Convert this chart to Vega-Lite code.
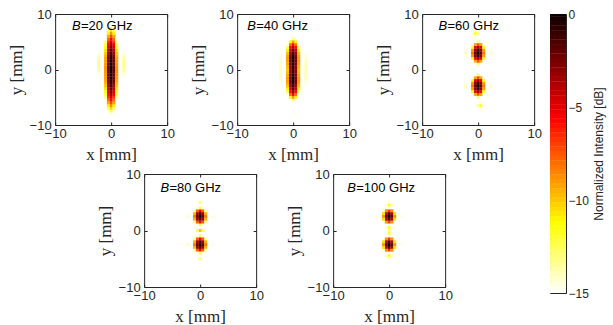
{
"$schema": "https://vega.github.io/schema/vega-lite/v6.json",
"padding": {"left": 6, "top": 7, "right": 5, "bottom": 5},
"background": "white",
"config": {
  "view": {"stroke": "#262626", "strokeWidth": 1},
  "axis": {"domain": false, "grid": false, "labelFont": "Liberation Sans", "labelFontSize": 13, "labelColor": "#262626", "tickColor": "#262626", "tickSize": -3, "titleFont": "Liberation Serif", "titleFontSize": 17, "titleFontWeight": "normal", "titleColor": "#262626", "labelFlush": false},
  "axisX": {"labelPadding": 5, "titlePadding": 6},
  "axisY": {"labelPadding": 7, "titlePadding": 4}
},
"datasets": {
"d20": [
{"x":0,"y":-8,"v":-14.5},{"x":0,"y":-7.5,"v":-12.4},{"x":0,"y":-7,"v":-10.4},{"x":0,"y":-6.5,"v":-8.7},{"x":0,"y":-6,"v":-7.1},{"x":0,"y":-5.5,"v":-5.7},{"x":0,"y":-5,"v":-4.5},{"x":0,"y":-4.5,"v":-3.5},{"x":0,"y":-4,"v":-2.6},{"x":0,"y":-3.5,"v":-1.8},{"x":0,"y":-3,"v":-1.3},{"x":0,"y":-2.5,"v":-0.8},{"x":0,"y":-2,"v":-0.5},{"x":0,"y":-1.5,"v":-0.2},{"x":0,"y":-1,"v":-0.1},{"x":0,"y":-0.5,"v":0},{"x":0,"y":0,"v":0},{"x":0,"y":0.5,"v":0},{"x":0,"y":1,"v":-0.1},{"x":0,"y":1.5,"v":-0.2},{"x":0,"y":2,"v":-0.5},{"x":0,"y":2.5,"v":-0.8},{"x":0,"y":3,"v":-1.3},{"x":0,"y":3.5,"v":-1.8},{"x":0,"y":4,"v":-2.6},{"x":0,"y":4.5,"v":-3.5},{"x":0,"y":5,"v":-4.5},{"x":0,"y":5.5,"v":-5.7},{"x":0,"y":6,"v":-7.1},{"x":0,"y":6.5,"v":-8.7},{"x":0,"y":7,"v":-10.4},{"x":0,"y":7.5,"v":-12.4},{"x":0,"y":8,"v":-14.5},
{"x":-0.5,"y":-7.5,"v":-14.6},{"x":-0.5,"y":-7,"v":-12.6},{"x":-0.5,"y":-6.5,"v":-10.9},{"x":-0.5,"y":-6,"v":-9.3},{"x":-0.5,"y":-5.5,"v":-7.9},{"x":-0.5,"y":-5,"v":-6.7},{"x":-0.5,"y":-4.5,"v":-5.7},{"x":-0.5,"y":-4,"v":-4.8},{"x":-0.5,"y":-3.5,"v":-4.1},{"x":-0.5,"y":-3,"v":-3.5},{"x":-0.5,"y":-2.5,"v":-3.0},{"x":-0.5,"y":-2,"v":-2.7},{"x":-0.5,"y":-1.5,"v":-2.4},{"x":-0.5,"y":-1,"v":-2.3},{"x":-0.5,"y":-0.5,"v":-2.2},{"x":-0.5,"y":0,"v":-2.2},{"x":-0.5,"y":0.5,"v":-2.2},{"x":-0.5,"y":1,"v":-2.3},{"x":-0.5,"y":1.5,"v":-2.4},{"x":-0.5,"y":2,"v":-2.7},{"x":-0.5,"y":2.5,"v":-3.0},{"x":-0.5,"y":3,"v":-3.5},{"x":-0.5,"y":3.5,"v":-4.1},{"x":-0.5,"y":4,"v":-4.8},{"x":-0.5,"y":4.5,"v":-5.7},{"x":-0.5,"y":5,"v":-6.7},{"x":-0.5,"y":5.5,"v":-7.9},{"x":-0.5,"y":6,"v":-9.3},{"x":-0.5,"y":6.5,"v":-10.9},{"x":-0.5,"y":7,"v":-12.6},{"x":-0.5,"y":7.5,"v":-14.6},
{"x":0.5,"y":-7.5,"v":-14.6},{"x":0.5,"y":-7,"v":-12.6},{"x":0.5,"y":-6.5,"v":-10.9},{"x":0.5,"y":-6,"v":-9.3},{"x":0.5,"y":-5.5,"v":-7.9},{"x":0.5,"y":-5,"v":-6.7},{"x":0.5,"y":-4.5,"v":-5.7},{"x":0.5,"y":-4,"v":-4.8},{"x":0.5,"y":-3.5,"v":-4.1},{"x":0.5,"y":-3,"v":-3.5},{"x":0.5,"y":-2.5,"v":-3.0},{"x":0.5,"y":-2,"v":-2.7},{"x":0.5,"y":-1.5,"v":-2.4},{"x":0.5,"y":-1,"v":-2.3},{"x":0.5,"y":-0.5,"v":-2.2},{"x":0.5,"y":0,"v":-2.2},{"x":0.5,"y":0.5,"v":-2.2},{"x":0.5,"y":1,"v":-2.3},{"x":0.5,"y":1.5,"v":-2.4},{"x":0.5,"y":2,"v":-2.7},{"x":0.5,"y":2.5,"v":-3.0},{"x":0.5,"y":3,"v":-3.5},{"x":0.5,"y":3.5,"v":-4.1},{"x":0.5,"y":4,"v":-4.8},{"x":0.5,"y":4.5,"v":-5.7},{"x":0.5,"y":5,"v":-6.7},{"x":0.5,"y":5.5,"v":-7.9},{"x":0.5,"y":6,"v":-9.3},{"x":0.5,"y":6.5,"v":-10.9},{"x":0.5,"y":7,"v":-12.6},{"x":0.5,"y":7.5,"v":-14.6},
{"x":-1,"y":-5.5,"v":-14.6},{"x":-1,"y":-5,"v":-13.4},{"x":-1,"y":-4.5,"v":-12.3},{"x":-1,"y":-4,"v":-11.5},{"x":-1,"y":-3.5,"v":-10.7},{"x":-1,"y":-3,"v":-10.1},{"x":-1,"y":-2.5,"v":-9.7},{"x":-1,"y":-2,"v":-9.3},{"x":-1,"y":-1.5,"v":-9.1},{"x":-1,"y":-1,"v":-9.0},{"x":-1,"y":-0.5,"v":-8.9},{"x":-1,"y":0,"v":-8.9},{"x":-1,"y":0.5,"v":-8.9},{"x":-1,"y":1,"v":-9.0},{"x":-1,"y":1.5,"v":-9.1},{"x":-1,"y":2,"v":-9.3},{"x":-1,"y":2.5,"v":-9.7},{"x":-1,"y":3,"v":-10.1},{"x":-1,"y":3.5,"v":-10.7},{"x":-1,"y":4,"v":-11.5},{"x":-1,"y":4.5,"v":-12.3},{"x":-1,"y":5,"v":-13.4},{"x":-1,"y":5.5,"v":-14.6},
{"x":1,"y":-5.5,"v":-14.6},{"x":1,"y":-5,"v":-13.4},{"x":1,"y":-4.5,"v":-12.3},{"x":1,"y":-4,"v":-11.5},{"x":1,"y":-3.5,"v":-10.7},{"x":1,"y":-3,"v":-10.1},{"x":1,"y":-2.5,"v":-9.7},{"x":1,"y":-2,"v":-9.3},{"x":1,"y":-1.5,"v":-9.1},{"x":1,"y":-1,"v":-9.0},{"x":1,"y":-0.5,"v":-8.9},{"x":1,"y":0,"v":-8.9},{"x":1,"y":0.5,"v":-8.9},{"x":1,"y":1,"v":-9.0},{"x":1,"y":1.5,"v":-9.1},{"x":1,"y":2,"v":-9.3},{"x":1,"y":2.5,"v":-9.7},{"x":1,"y":3,"v":-10.1},{"x":1,"y":3.5,"v":-10.7},{"x":1,"y":4,"v":-11.5},{"x":1,"y":4.5,"v":-12.3},{"x":1,"y":5,"v":-13.4},{"x":1,"y":5.5,"v":-14.6},
{"x":-2.25,"y":-1,"v":-14.6},{"x":-2.25,"y":-0.5,"v":-14.0},{"x":-2.25,"y":0,"v":-13.6},{"x":-2.25,"y":0.5,"v":-13.3},{"x":-2.25,"y":1,"v":-13.2},{"x":-2.25,"y":1.5,"v":-13.3},{"x":-2.25,"y":2,"v":-13.6},{"x":-2.25,"y":2.5,"v":-14.0},{"x":-2.25,"y":3,"v":-14.6},
{"x":2.25,"y":-1,"v":-14.6},{"x":2.25,"y":-0.5,"v":-14.0},{"x":2.25,"y":0,"v":-13.6},{"x":2.25,"y":0.5,"v":-13.3},{"x":2.25,"y":1,"v":-13.2},{"x":2.25,"y":1.5,"v":-13.3},{"x":2.25,"y":2,"v":-13.6},{"x":2.25,"y":2.5,"v":-14.0},{"x":2.25,"y":3,"v":-14.6}
],
"d40": [
{"x":0,"y":-5.5,"v":-13.0},{"x":0,"y":-5,"v":-8.9},{"x":0,"y":-4.5,"v":-5.8},{"x":0,"y":-4,"v":-3.6},{"x":0,"y":-3.5,"v":-2.1},{"x":0,"y":-3,"v":-1.2},{"x":0,"y":-2.5,"v":-0.6},{"x":0,"y":-2,"v":-0.2},{"x":0,"y":-1.5,"v":-0.2},{"x":0,"y":-1,"v":-0.4},{"x":0,"y":-0.5,"v":-0.9},{"x":0,"y":0,"v":-1.2},{"x":0,"y":0.5,"v":-0.9},{"x":0,"y":1,"v":-0.4},{"x":0,"y":1.5,"v":-0.2},{"x":0,"y":2,"v":-0.2},{"x":0,"y":2.5,"v":-0.6},{"x":0,"y":3,"v":-1.2},{"x":0,"y":3.5,"v":-2.1},{"x":0,"y":4,"v":-3.6},{"x":0,"y":4.5,"v":-5.8},{"x":0,"y":5,"v":-8.9},{"x":0,"y":5.5,"v":-13.0},
{"x":-0.5,"y":-5,"v":-11.1},{"x":-0.5,"y":-4.5,"v":-8.1},{"x":-0.5,"y":-4,"v":-5.9},{"x":-0.5,"y":-3.5,"v":-4.4},{"x":-0.5,"y":-3,"v":-3.4},{"x":-0.5,"y":-2.5,"v":-2.8},{"x":-0.5,"y":-2,"v":-2.5},{"x":-0.5,"y":-1.5,"v":-2.4},{"x":-0.5,"y":-1,"v":-2.6},{"x":-0.5,"y":-0.5,"v":-3.1},{"x":-0.5,"y":0,"v":-3.4},{"x":-0.5,"y":0.5,"v":-3.1},{"x":-0.5,"y":1,"v":-2.6},{"x":-0.5,"y":1.5,"v":-2.4},{"x":-0.5,"y":2,"v":-2.5},{"x":-0.5,"y":2.5,"v":-2.8},{"x":-0.5,"y":3,"v":-3.4},{"x":-0.5,"y":3.5,"v":-4.4},{"x":-0.5,"y":4,"v":-5.9},{"x":-0.5,"y":4.5,"v":-8.1},{"x":-0.5,"y":5,"v":-11.1},
{"x":0.5,"y":-5,"v":-11.1},{"x":0.5,"y":-4.5,"v":-8.1},{"x":0.5,"y":-4,"v":-5.9},{"x":0.5,"y":-3.5,"v":-4.4},{"x":0.5,"y":-3,"v":-3.4},{"x":0.5,"y":-2.5,"v":-2.8},{"x":0.5,"y":-2,"v":-2.5},{"x":0.5,"y":-1.5,"v":-2.4},{"x":0.5,"y":-1,"v":-2.6},{"x":0.5,"y":-0.5,"v":-3.1},{"x":0.5,"y":0,"v":-3.4},{"x":0.5,"y":0.5,"v":-3.1},{"x":0.5,"y":1,"v":-2.6},{"x":0.5,"y":1.5,"v":-2.4},{"x":0.5,"y":2,"v":-2.5},{"x":0.5,"y":2.5,"v":-2.8},{"x":0.5,"y":3,"v":-3.4},{"x":0.5,"y":3.5,"v":-4.4},{"x":0.5,"y":4,"v":-5.9},{"x":0.5,"y":4.5,"v":-8.1},{"x":0.5,"y":5,"v":-11.1},
{"x":-1,"y":-4.5,"v":-14.7},{"x":-1,"y":-4,"v":-12.5},{"x":-1,"y":-3.5,"v":-11.0},{"x":-1,"y":-3,"v":-10.0},{"x":-1,"y":-2.5,"v":-9.4},{"x":-1,"y":-2,"v":-9.1},{"x":-1,"y":-1.5,"v":-9.1},{"x":-1,"y":-1,"v":-9.3},{"x":-1,"y":-0.5,"v":-9.8},{"x":-1,"y":0,"v":-10.1},{"x":-1,"y":0.5,"v":-9.8},{"x":-1,"y":1,"v":-9.3},{"x":-1,"y":1.5,"v":-9.1},{"x":-1,"y":2,"v":-9.1},{"x":-1,"y":2.5,"v":-9.4},{"x":-1,"y":3,"v":-10.0},{"x":-1,"y":3.5,"v":-11.0},{"x":-1,"y":4,"v":-12.5},{"x":-1,"y":4.5,"v":-14.7},
{"x":1,"y":-4.5,"v":-14.7},{"x":1,"y":-4,"v":-12.5},{"x":1,"y":-3.5,"v":-11.0},{"x":1,"y":-3,"v":-10.0},{"x":1,"y":-2.5,"v":-9.4},{"x":1,"y":-2,"v":-9.1},{"x":1,"y":-1.5,"v":-9.1},{"x":1,"y":-1,"v":-9.3},{"x":1,"y":-0.5,"v":-9.8},{"x":1,"y":0,"v":-10.1},{"x":1,"y":0.5,"v":-9.8},{"x":1,"y":1,"v":-9.3},{"x":1,"y":1.5,"v":-9.1},{"x":1,"y":2,"v":-9.1},{"x":1,"y":2.5,"v":-9.4},{"x":1,"y":3,"v":-10.0},{"x":1,"y":3.5,"v":-11.0},{"x":1,"y":4,"v":-12.5},{"x":1,"y":4.5,"v":-14.7},
{"x":-2.25,"y":-2.5,"v":-14.6},{"x":-2.25,"y":-2,"v":-14.3},{"x":-2.25,"y":-1.5,"v":-14.1},{"x":-2.25,"y":-1,"v":-14.0},{"x":-2.25,"y":-0.5,"v":-14.0},{"x":-2.25,"y":0,"v":-14.0},{"x":-2.25,"y":0.5,"v":-14.0},{"x":-2.25,"y":1,"v":-14.0},{"x":-2.25,"y":1.5,"v":-14.1},{"x":-2.25,"y":2,"v":-14.3},{"x":-2.25,"y":2.5,"v":-14.6},
{"x":2.25,"y":-2.5,"v":-14.6},{"x":2.25,"y":-2,"v":-14.3},{"x":2.25,"y":-1.5,"v":-14.1},{"x":2.25,"y":-1,"v":-14.0},{"x":2.25,"y":-0.5,"v":-14.0},{"x":2.25,"y":0,"v":-14.0},{"x":2.25,"y":0.5,"v":-14.0},{"x":2.25,"y":1,"v":-14.0},{"x":2.25,"y":1.5,"v":-14.1},{"x":2.25,"y":2,"v":-14.3},{"x":2.25,"y":2.5,"v":-14.6},
{"x":0,"y":-8,"v":-14.6}
],
"d60": [
{"x":0,"y":1,"v":-13.0},{"x":0,"y":1.5,"v":-7.3},{"x":0,"y":2,"v":-3.2},{"x":0,"y":2.5,"v":-0.8},{"x":0,"y":3,"v":0},{"x":0,"y":3.5,"v":-0.8},{"x":0,"y":4,"v":-3.2},{"x":0,"y":4.5,"v":-7.3},{"x":0,"y":5,"v":-13.0},
{"x":-0.5,"y":1.5,"v":-9.4},{"x":-0.5,"y":2,"v":-5.3},{"x":-0.5,"y":2.5,"v":-2.9},{"x":-0.5,"y":3,"v":-2.1},{"x":-0.5,"y":3.5,"v":-2.9},{"x":-0.5,"y":4,"v":-5.3},{"x":-0.5,"y":4.5,"v":-9.4},
{"x":0.5,"y":1.5,"v":-9.4},{"x":0.5,"y":2,"v":-5.3},{"x":0.5,"y":2.5,"v":-2.9},{"x":0.5,"y":3,"v":-2.1},{"x":0.5,"y":3.5,"v":-2.9},{"x":0.5,"y":4,"v":-5.3},{"x":0.5,"y":4.5,"v":-9.4},
{"x":-1,"y":2,"v":-11.5},{"x":-1,"y":2.5,"v":-9.0},{"x":-1,"y":3,"v":-8.2},{"x":-1,"y":3.5,"v":-9.0},{"x":-1,"y":4,"v":-11.5},
{"x":1,"y":2,"v":-11.5},{"x":1,"y":2.5,"v":-9.0},{"x":1,"y":3,"v":-8.2},{"x":1,"y":3.5,"v":-9.0},{"x":1,"y":4,"v":-11.5},
{"x":0,"y":-1,"v":-13.0},{"x":0,"y":-1.5,"v":-7.3},{"x":0,"y":-2,"v":-3.2},{"x":0,"y":-2.5,"v":-0.8},{"x":0,"y":-3,"v":0},{"x":0,"y":-3.5,"v":-0.8},{"x":0,"y":-4,"v":-3.2},{"x":0,"y":-4.5,"v":-7.3},{"x":0,"y":-5,"v":-13.0},
{"x":-0.5,"y":-1.5,"v":-9.4},{"x":-0.5,"y":-2,"v":-5.3},{"x":-0.5,"y":-2.5,"v":-2.9},{"x":-0.5,"y":-3,"v":-2.1},{"x":-0.5,"y":-3.5,"v":-2.9},{"x":-0.5,"y":-4,"v":-5.3},{"x":-0.5,"y":-4.5,"v":-9.4},
{"x":0.5,"y":-1.5,"v":-9.4},{"x":0.5,"y":-2,"v":-5.3},{"x":0.5,"y":-2.5,"v":-2.9},{"x":0.5,"y":-3,"v":-2.1},{"x":0.5,"y":-3.5,"v":-2.9},{"x":0.5,"y":-4,"v":-5.3},{"x":0.5,"y":-4.5,"v":-9.4},
{"x":-1,"y":-2,"v":-11.5},{"x":-1,"y":-2.5,"v":-9.0},{"x":-1,"y":-3,"v":-8.2},{"x":-1,"y":-3.5,"v":-9.0},{"x":-1,"y":-4,"v":-11.5},
{"x":1,"y":-2,"v":-11.5},{"x":1,"y":-2.5,"v":-9.0},{"x":1,"y":-3,"v":-8.2},{"x":1,"y":-3.5,"v":-9.0},{"x":1,"y":-4,"v":-11.5},
{"x":-0.5,"y":6.5,"v":-11.5},{"x":0,"y":6.5,"v":-13.3},{"x":-0.5,"y":7,"v":-14.3},{"x":-0.5,"y":6,"v":-14.3},{"x":-1,"y":6.5,"v":-14.5},
{"x":0.5,"y":-6.5,"v":-11.5},{"x":0,"y":-6.5,"v":-13.3},{"x":0.5,"y":-6,"v":-14.3},{"x":0.5,"y":-7,"v":-14.3},{"x":1,"y":-6.5,"v":-14.5},
{"x":-2.25,"y":2.5,"v":-14.6},{"x":-2.25,"y":3,"v":-14.0},{"x":-2.25,"y":3.5,"v":-14.6},{"x":2.25,"y":2.5,"v":-14.6},{"x":2.25,"y":3,"v":-14.0},{"x":2.25,"y":3.5,"v":-14.6},
{"x":-2.25,"y":-2.5,"v":-14.6},{"x":-2.25,"y":-3,"v":-14.0},{"x":-2.25,"y":-3.5,"v":-14.6},{"x":2.25,"y":-2.5,"v":-14.6},{"x":2.25,"y":-3,"v":-14.0},{"x":2.25,"y":-3.5,"v":-14.6}
],
"d80": [
{"x":0,"y":1,"v":-12.4},{"x":0,"y":1.5,"v":-5.5},{"x":0,"y":2,"v":-1.4},{"x":0,"y":2.5,"v":0},{"x":0,"y":3,"v":-1.4},{"x":0,"y":3.5,"v":-5.5},{"x":0,"y":4,"v":-12.4},
{"x":-0.5,"y":1,"v":-14.5},{"x":-0.5,"y":1.5,"v":-7.6},{"x":-0.5,"y":2,"v":-3.4},{"x":-0.5,"y":2.5,"v":-2.1},{"x":-0.5,"y":3,"v":-3.4},{"x":-0.5,"y":3.5,"v":-7.6},{"x":-0.5,"y":4,"v":-14.5},
{"x":0.5,"y":1,"v":-14.5},{"x":0.5,"y":1.5,"v":-7.6},{"x":0.5,"y":2,"v":-3.4},{"x":0.5,"y":2.5,"v":-2.1},{"x":0.5,"y":3,"v":-3.4},{"x":0.5,"y":3.5,"v":-7.6},{"x":0.5,"y":4,"v":-14.5},
{"x":-1,"y":1.5,"v":-13.7},{"x":-1,"y":2,"v":-9.6},{"x":-1,"y":2.5,"v":-8.2},{"x":-1,"y":3,"v":-9.6},{"x":-1,"y":3.5,"v":-13.7},
{"x":1,"y":1.5,"v":-13.7},{"x":1,"y":2,"v":-9.6},{"x":1,"y":2.5,"v":-8.2},{"x":1,"y":3,"v":-9.6},{"x":1,"y":3.5,"v":-13.7},
{"x":0,"y":-1,"v":-12.4},{"x":0,"y":-1.5,"v":-5.5},{"x":0,"y":-2,"v":-1.4},{"x":0,"y":-2.5,"v":0},{"x":0,"y":-3,"v":-1.4},{"x":0,"y":-3.5,"v":-5.5},{"x":0,"y":-4,"v":-12.4},
{"x":-0.5,"y":-1,"v":-14.5},{"x":-0.5,"y":-1.5,"v":-7.6},{"x":-0.5,"y":-2,"v":-3.4},{"x":-0.5,"y":-2.5,"v":-2.1},{"x":-0.5,"y":-3,"v":-3.4},{"x":-0.5,"y":-3.5,"v":-7.6},{"x":-0.5,"y":-4,"v":-14.5},
{"x":0.5,"y":-1,"v":-14.5},{"x":0.5,"y":-1.5,"v":-7.6},{"x":0.5,"y":-2,"v":-3.4},{"x":0.5,"y":-2.5,"v":-2.1},{"x":0.5,"y":-3,"v":-3.4},{"x":0.5,"y":-3.5,"v":-7.6},{"x":0.5,"y":-4,"v":-14.5},
{"x":-1,"y":-1.5,"v":-13.7},{"x":-1,"y":-2,"v":-9.6},{"x":-1,"y":-2.5,"v":-8.2},{"x":-1,"y":-3,"v":-9.6},{"x":-1,"y":-3.5,"v":-13.7},
{"x":1,"y":-1.5,"v":-13.7},{"x":1,"y":-2,"v":-9.6},{"x":1,"y":-2.5,"v":-8.2},{"x":1,"y":-3,"v":-9.6},{"x":1,"y":-3.5,"v":-13.7},
{"x":0,"y":0,"v":-10.0},{"x":-0.5,"y":0,"v":-12.5},{"x":0.5,"y":0,"v":-12.5},
{"x":0,"y":5,"v":-13.0},{"x":0,"y":-5,"v":-13.0},
{"x":-2.25,"y":2.5,"v":-14.3},{"x":2.25,"y":2.5,"v":-14.3},{"x":-2.25,"y":-2.5,"v":-14.3},{"x":2.25,"y":-2.5,"v":-14.3}
],
"d100": [
{"x":0,"y":1,"v":-14.5},{"x":0,"y":1.5,"v":-6.7},{"x":0,"y":2,"v":-1.7},{"x":0,"y":2.5,"v":0},{"x":0,"y":3,"v":-1.7},{"x":0,"y":3.5,"v":-6.7},{"x":0,"y":4,"v":-14.5},
{"x":-0.5,"y":1.5,"v":-8.9},{"x":-0.5,"y":2,"v":-3.9},{"x":-0.5,"y":2.5,"v":-2.2},{"x":-0.5,"y":3,"v":-3.9},{"x":-0.5,"y":3.5,"v":-8.9},
{"x":0.5,"y":1.5,"v":-8.9},{"x":0.5,"y":2,"v":-3.9},{"x":0.5,"y":2.5,"v":-2.2},{"x":0.5,"y":3,"v":-3.9},{"x":0.5,"y":3.5,"v":-8.9},
{"x":-1,"y":2,"v":-10.6},{"x":-1,"y":2.5,"v":-8.9},{"x":-1,"y":3,"v":-10.6},
{"x":1,"y":2,"v":-10.6},{"x":1,"y":2.5,"v":-8.9},{"x":1,"y":3,"v":-10.6},
{"x":0,"y":-1,"v":-14.5},{"x":0,"y":-1.5,"v":-6.7},{"x":0,"y":-2,"v":-1.7},{"x":0,"y":-2.5,"v":0},{"x":0,"y":-3,"v":-1.7},{"x":0,"y":-3.5,"v":-6.7},{"x":0,"y":-4,"v":-14.5},
{"x":-0.5,"y":-1.5,"v":-8.9},{"x":-0.5,"y":-2,"v":-3.9},{"x":-0.5,"y":-2.5,"v":-2.2},{"x":-0.5,"y":-3,"v":-3.9},{"x":-0.5,"y":-3.5,"v":-8.9},
{"x":0.5,"y":-1.5,"v":-8.9},{"x":0.5,"y":-2,"v":-3.9},{"x":0.5,"y":-2.5,"v":-2.2},{"x":0.5,"y":-3,"v":-3.9},{"x":0.5,"y":-3.5,"v":-8.9},
{"x":-1,"y":-2,"v":-10.6},{"x":-1,"y":-2.5,"v":-8.9},{"x":-1,"y":-3,"v":-10.6},
{"x":1,"y":-2,"v":-10.6},{"x":1,"y":-2.5,"v":-8.9},{"x":1,"y":-3,"v":-10.6},
{"x":0,"y":0.5,"v":-11.5},{"x":0,"y":0,"v":-13.0},{"x":0,"y":-0.5,"v":-12.0},{"x":-0.5,"y":0.5,"v":-14.3},{"x":0.5,"y":0.5,"v":-14.3},{"x":-0.5,"y":-0.5,"v":-14.5},{"x":0.5,"y":-0.5,"v":-14.5},
{"x":0,"y":4.5,"v":-11.5},{"x":-0.5,"y":4.5,"v":-14.0},{"x":0.5,"y":4.5,"v":-14.0},{"x":0,"y":5,"v":-14.3},
{"x":0,"y":-4.5,"v":-11.5},{"x":-0.5,"y":-4.5,"v":-14.0},{"x":0.5,"y":-4.5,"v":-14.0},{"x":0,"y":-5,"v":-14.3},
{"x":-2.25,"y":2.5,"v":-14.6},{"x":2.25,"y":2.5,"v":-14.6},{"x":-2.25,"y":-2.5,"v":-14.6},{"x":2.25,"y":-2.5,"v":-14.6}
],
"cb": [
{"v":0},{"v":-0.25},{"v":-0.5},{"v":-0.75},{"v":-1},{"v":-1.25},{"v":-1.5},{"v":-1.75},{"v":-2},{"v":-2.25},{"v":-2.5},{"v":-2.75},{"v":-3},{"v":-3.25},{"v":-3.5},{"v":-3.75},{"v":-4},{"v":-4.25},{"v":-4.5},{"v":-4.75},{"v":-5},{"v":-5.25},{"v":-5.5},{"v":-5.75},{"v":-6},{"v":-6.25},{"v":-6.5},{"v":-6.75},{"v":-7},{"v":-7.25},{"v":-7.5},{"v":-7.75},{"v":-8},{"v":-8.25},{"v":-8.5},{"v":-8.75},{"v":-9},{"v":-9.25},{"v":-9.5},{"v":-9.75},{"v":-10},{"v":-10.25},{"v":-10.5},{"v":-10.75},{"v":-11},{"v":-11.25},{"v":-11.5},{"v":-11.75},{"v":-12},{"v":-12.25},{"v":-12.5},{"v":-12.75},{"v":-13},{"v":-13.25},{"v":-13.5},{"v":-13.75},{"v":-14},{"v":-14.25},{"v":-14.5},{"v":-14.75},{"v":-15}
]
},
"hconcat": [
{"vconcat": [
  {"hconcat": [
    {"hconcat": [
      {"width": 112, "height": 111,
       "layer": [
        {"data": {"name": "d20"}, "mark": {"type": "square", "size": 9, "opacity": 1, "strokeWidth": 0},
         "encoding": {"x": {"field": "x", "type": "quantitative", "scale": {"domain": [-10, 10]}, "axis": {"values": [-10, 0, 10], "title": "x [mm]"}},
                      "y": {"field": "y", "type": "quantitative", "scale": {"domain": [-10, 10]}, "axis": {"values": [-10, 0, 10], "title": "y [mm]"}},
                      "color": {"field": "v", "type": "quantitative", "scale": {"domain": [-15, -11.25, -5.625, 0], "range": ["#ffffff", "#ffff00", "#ff0000", "#0b0000"], "interpolate": "rgb"}, "legend": null}}},
        {"data": {"values": [{"x": -7, "y": 7.1, "b": "B", "t": "=20 GHz"}]}, "mark": {"type": "text", "font": "Liberation Sans", "fontSize": 13, "fontStyle": "italic", "align": "left", "baseline": "alphabetic", "color": "#000000"},
         "encoding": {"x": {"field": "x", "type": "quantitative", "scale": {"domain": [-10, 10]}, "axis": {"orient": "top", "values": [-10, 0, 10], "labels": false, "title": null}},
                      "y": {"field": "y", "type": "quantitative", "scale": {"domain": [-10, 10]}, "axis": {"orient": "right", "values": [-10, 0, 10], "labels": false, "title": null}},
                      "text": {"field": "b"}}},
        {"data": {"values": [{"x": -7, "y": 7.1, "b": "B", "t": "=20 GHz"}]}, "mark": {"type": "text", "font": "Liberation Sans", "fontSize": 13, "align": "left", "baseline": "alphabetic", "dx": 9, "color": "#000000"},
         "encoding": {"x": {"field": "x", "type": "quantitative", "scale": {"domain": [-10, 10]}, "axis": null},
                      "y": {"field": "y", "type": "quantitative", "scale": {"domain": [-10, 10]}, "axis": null},
                      "text": {"field": "t"}}}
       ],
       "resolve": {"axis": {"x": "independent", "y": "independent"}}},
      {"width": 112, "height": 111,
       "layer": [
        {"data": {"name": "d40"}, "mark": {"type": "square", "size": 9, "opacity": 1, "strokeWidth": 0},
         "encoding": {"x": {"field": "x", "type": "quantitative", "scale": {"domain": [-10, 10]}, "axis": {"values": [-10, 0, 10], "title": "x [mm]"}},
                      "y": {"field": "y", "type": "quantitative", "scale": {"domain": [-10, 10]}, "axis": {"values": [-10, 0, 10], "title": "y [mm]"}},
                      "color": {"field": "v", "type": "quantitative", "scale": {"domain": [-15, -11.25, -5.625, 0], "range": ["#ffffff", "#ffff00", "#ff0000", "#0b0000"], "interpolate": "rgb"}, "legend": null}}},
        {"data": {"values": [{"x": -8.2, "y": 7.1, "b": "B", "t": "=40 GHz"}]}, "mark": {"type": "text", "font": "Liberation Sans", "fontSize": 13, "fontStyle": "italic", "align": "left", "baseline": "alphabetic", "color": "#000000"},
         "encoding": {"x": {"field": "x", "type": "quantitative", "scale": {"domain": [-10, 10]}, "axis": {"orient": "top", "values": [-10, 0, 10], "labels": false, "title": null}},
                      "y": {"field": "y", "type": "quantitative", "scale": {"domain": [-10, 10]}, "axis": {"orient": "right", "values": [-10, 0, 10], "labels": false, "title": null}},
                      "text": {"field": "b"}}},
        {"data": {"values": [{"x": -8.2, "y": 7.1, "b": "B", "t": "=40 GHz"}]}, "mark": {"type": "text", "font": "Liberation Sans", "fontSize": 13, "align": "left", "baseline": "alphabetic", "dx": 9, "color": "#000000"},
         "encoding": {"x": {"field": "x", "type": "quantitative", "scale": {"domain": [-10, 10]}, "axis": null},
                      "y": {"field": "y", "type": "quantitative", "scale": {"domain": [-10, 10]}, "axis": null},
                      "text": {"field": "t"}}}
       ],
       "resolve": {"axis": {"x": "independent", "y": "independent"}}}
    ], "spacing": 13},
    {"width": 112, "height": 111,
     "layer": [
      {"data": {"name": "d60"}, "mark": {"type": "square", "size": 9, "opacity": 1, "strokeWidth": 0},
       "encoding": {"x": {"field": "x", "type": "quantitative", "scale": {"domain": [-10, 10]}, "axis": {"values": [-10, 0, 10], "title": "x [mm]"}},
                    "y": {"field": "y", "type": "quantitative", "scale": {"domain": [-10, 10]}, "axis": {"values": [-10, 0, 10], "title": "y [mm]"}},
                    "color": {"field": "v", "type": "quantitative", "scale": {"domain": [-15, -11.25, -5.625, 0], "range": ["#ffffff", "#ffff00", "#ff0000", "#0b0000"], "interpolate": "rgb"}, "legend": null}}},
      {"data": {"values": [{"x": -7.1, "y": 7.1, "b": "B", "t": "=60 GHz"}]}, "mark": {"type": "text", "font": "Liberation Sans", "fontSize": 13, "fontStyle": "italic", "align": "left", "baseline": "alphabetic", "color": "#000000"},
       "encoding": {"x": {"field": "x", "type": "quantitative", "scale": {"domain": [-10, 10]}, "axis": {"orient": "top", "values": [-10, 0, 10], "labels": false, "title": null}},
                    "y": {"field": "y", "type": "quantitative", "scale": {"domain": [-10, 10]}, "axis": {"orient": "right", "values": [-10, 0, 10], "labels": false, "title": null}},
                    "text": {"field": "b"}}},
      {"data": {"values": [{"x": -7.1, "y": 7.1, "b": "B", "t": "=60 GHz"}]}, "mark": {"type": "text", "font": "Liberation Sans", "fontSize": 13, "align": "left", "baseline": "alphabetic", "dx": 9, "color": "#000000"},
       "encoding": {"x": {"field": "x", "type": "quantitative", "scale": {"domain": [-10, 10]}, "axis": null},
                    "y": {"field": "y", "type": "quantitative", "scale": {"domain": [-10, 10]}, "axis": null},
                    "text": {"field": "t"}}}
     ],
     "resolve": {"axis": {"x": "independent", "y": "independent"}}}
  ], "spacing": 16},
  {"hconcat": [
    {"width": 112, "height": 113,
     "layer": [
      {"data": {"name": "d80"}, "mark": {"type": "square", "size": 9, "opacity": 1, "strokeWidth": 0},
       "encoding": {"x": {"field": "x", "type": "quantitative", "scale": {"domain": [-10, 10]}, "axis": {"values": [-10, 0, 10], "title": "x [mm]"}},
                    "y": {"field": "y", "type": "quantitative", "scale": {"domain": [-10, 10]}, "axis": {"values": [-10, 0, 10], "title": "y [mm]"}},
                    "color": {"field": "v", "type": "quantitative", "scale": {"domain": [-15, -11.25, -5.625, 0], "range": ["#ffffff", "#ffff00", "#ff0000", "#0b0000"], "interpolate": "rgb"}, "legend": null}}},
      {"data": {"values": [{"x": -7.1, "y": 6.8, "b": "B", "t": "=80 GHz"}]}, "mark": {"type": "text", "font": "Liberation Sans", "fontSize": 13, "fontStyle": "italic", "align": "left", "baseline": "alphabetic", "color": "#000000"},
       "encoding": {"x": {"field": "x", "type": "quantitative", "scale": {"domain": [-10, 10]}, "axis": {"orient": "top", "values": [-10, 0, 10], "labels": false, "title": null}},
                    "y": {"field": "y", "type": "quantitative", "scale": {"domain": [-10, 10]}, "axis": {"orient": "right", "values": [-10, 0, 10], "labels": false, "title": null}},
                    "text": {"field": "b"}}},
      {"data": {"values": [{"x": -7.1, "y": 6.8, "b": "B", "t": "=80 GHz"}]}, "mark": {"type": "text", "font": "Liberation Sans", "fontSize": 13, "align": "left", "baseline": "alphabetic", "dx": 9, "color": "#000000"},
       "encoding": {"x": {"field": "x", "type": "quantitative", "scale": {"domain": [-10, 10]}, "axis": null},
                    "y": {"field": "y", "type": "quantitative", "scale": {"domain": [-10, 10]}, "axis": null},
                    "text": {"field": "t"}}}
     ],
     "resolve": {"axis": {"x": "independent", "y": "independent"}}},
    {"width": 112, "height": 113,
     "layer": [
      {"data": {"name": "d100"}, "mark": {"type": "square", "size": 9, "opacity": 1, "strokeWidth": 0},
       "encoding": {"x": {"field": "x", "type": "quantitative", "scale": {"domain": [-10, 10]}, "axis": {"values": [-10, 0, 10], "title": "x [mm]"}},
                    "y": {"field": "y", "type": "quantitative", "scale": {"domain": [-10, 10]}, "axis": {"values": [-10, 0, 10], "title": "y [mm]"}},
                    "color": {"field": "v", "type": "quantitative", "scale": {"domain": [-15, -11.25, -5.625, 0], "range": ["#ffffff", "#ffff00", "#ff0000", "#0b0000"], "interpolate": "rgb"}, "legend": null}}},
      {"data": {"values": [{"x": -7.5, "y": 6.8, "b": "B", "t": "=100 GHz"}]}, "mark": {"type": "text", "font": "Liberation Sans", "fontSize": 13, "fontStyle": "italic", "align": "left", "baseline": "alphabetic", "color": "#000000"},
       "encoding": {"x": {"field": "x", "type": "quantitative", "scale": {"domain": [-10, 10]}, "axis": {"orient": "top", "values": [-10, 0, 10], "labels": false, "title": null}},
                    "y": {"field": "y", "type": "quantitative", "scale": {"domain": [-10, 10]}, "axis": {"orient": "right", "values": [-10, 0, 10], "labels": false, "title": null}},
                    "text": {"field": "b"}}},
      {"data": {"values": [{"x": -7.5, "y": 6.8, "b": "B", "t": "=100 GHz"}]}, "mark": {"type": "text", "font": "Liberation Sans", "fontSize": 13, "align": "left", "baseline": "alphabetic", "dx": 9, "color": "#000000"},
       "encoding": {"x": {"field": "x", "type": "quantitative", "scale": {"domain": [-10, 10]}, "axis": null},
                    "y": {"field": "y", "type": "quantitative", "scale": {"domain": [-10, 10]}, "axis": null},
                    "text": {"field": "t"}}}
     ],
     "resolve": {"axis": {"x": "independent", "y": "independent"}}}
  ], "spacing": 20}
], "spacing": 4, "center": true},
{"width": 16, "height": 279,
 "data": {"name": "cb"},
 "mark": {"type": "tick", "orient": "horizontal", "size": 16, "thickness": 5, "opacity": 1, "clip": true},
 "encoding": {
   "y": {"field": "v", "type": "quantitative", "scale": {"domain": [-15, 0]}, "axis": {"orient": "right", "values": [0, -5, -10, -15], "title": "Normalized Intensity [dB]", "labelFontSize": 12, "titleFont": "Liberation Sans", "titleFontSize": 12, "titleAngle": -90, "titleBaseline": "top", "labelPadding": 5, "titlePadding": 5}},
   "color": {"field": "v", "type": "quantitative", "scale": {"domain": [-15, -11.25, -5.625, 0], "range": ["#ffffff", "#ffff00", "#ff0000", "#0b0000"], "interpolate": "rgb"}, "legend": null}
 }}
],
"spacing": 7
}
